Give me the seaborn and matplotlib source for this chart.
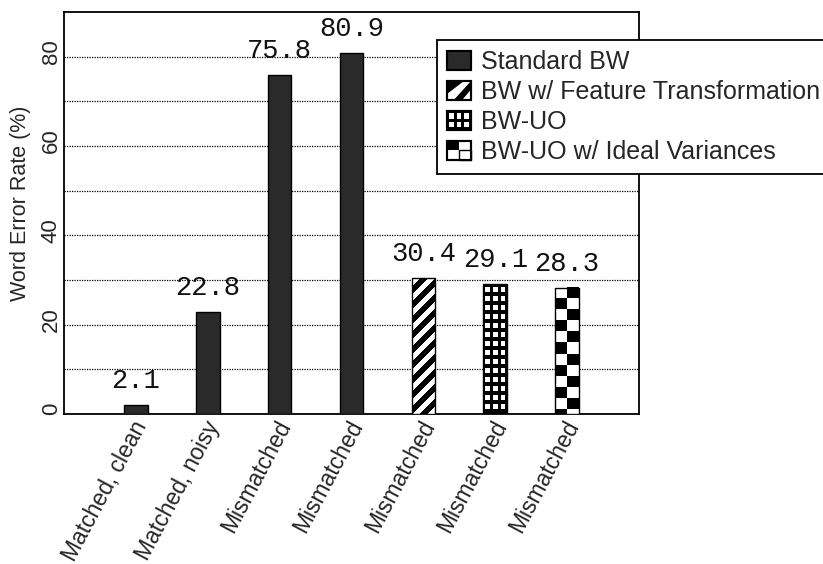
import numpy as np
import pandas as pd
import matplotlib
matplotlib.use("Agg")
import matplotlib.pyplot as plt
import matplotlib.transforms as mtransforms
import seaborn as sns
from matplotlib.legend_handler import HandlerBase
from matplotlib.patches import Rectangle, Polygon

# ---- data ---------------------------------------------------------------
conditions = ["Matched, clean", "Matched, noisy", "Mismatched", "Mismatched",
              "Mismatched", "Mismatched", "Mismatched"]
methods = ["Standard BW", "Standard BW", "Standard BW", "Standard BW",
           "BW w/ Feature Transformation", "BW-UO", "BW-UO w/ Ideal Variances"]
wer = [2.1, 22.8, 75.8, 80.9, 30.4, 29.1, 28.3]
method_order = ["Standard BW", "BW w/ Feature Transformation", "BW-UO",
                "BW-UO w/ Ideal Variances"]
y_ticks = [0, 20, 40, 60, 80]
y_grid = [10, 20, 30, 40, 50, 60, 70, 80]

slots = [str(i) for i in range(len(wer))]
df = pd.DataFrame({"slot": slots, "condition": conditions,
                   "method": methods, "wer": wer})

# fill style per method
pattern_of = {"Standard BW": "solid",
              "BW w/ Feature Transformation": "stripes",
              "BW-UO": "grid",
              "BW-UO w/ Ideal Variances": "checker"}
DARK = "#2a2a2a"

sns.set_style("white")
plt.rcParams["font.family"] = ["Liberation Sans", "DejaVu Sans"]

W, H, DPI = 8.23, 5.64, 100
fig = plt.figure(figsize=(W, H), dpi=DPI)
ax_rect = [64 / 823, 1 - 414 / 564, (639 - 64) / 823, (414 - 12) / 564]
ax = fig.add_axes(ax_rect)

palette = {m: (DARK if pattern_of[m] == "solid" else "white") for m in method_order}
sns.barplot(data=df, x="slot", y="wer", hue="method", order=slots,
            hue_order=method_order, dodge=False, width=0.33, palette=palette,
            edgecolor="black", linewidth=1.0, legend=False, ax=ax,
            saturation=1, zorder=3)

XLIM = (-1, 7)
YLIM = (0, 90)
px_per_x = ax_rect[2] * W * DPI / (XLIM[1] - XLIM[0])
px_per_y = ax_rect[3] * H * DPI / (YLIM[1] - YLIM[0])


def pattern_array(kind, w_px, h_px):
    yy, xx = np.mgrid[0:h_px, 0:w_px]
    ytop = h_px - 1 - yy
    if kind == "stripes":
        black = ((yy - xx) % 15) < 8
    elif kind == "grid":
        wx = ((xx - 2) % 8 < 5) & (xx >= 2) & (xx <= w_px - 3)
        wy = ((ytop - 3) % 9 < 5) & (ytop >= 3) & (yy >= 2)
        black = ~(wx & wy)
    else:  # checker
        col = (xx * 2) // w_px
        row = ytop // 11
        black = ((col + row) % 2) == 1
    return np.where(black, 0.0, 1.0)


# overlay the textured fills, clipped to each bar
for container, method in zip(ax.containers, method_order):
    kind = pattern_of[method]
    for patch in container:
        if kind == "solid":
            continue
        x0, w, h = patch.get_x(), patch.get_width(), patch.get_height()
        w_px = max(int(round(w * px_per_x)), 2)
        h_px = max(int(round(h * px_per_y)), 2)
        img = pattern_array(kind, w_px, h_px)
        ax.imshow(img, cmap="gray", vmin=0, vmax=1, origin="lower",
                  extent=(x0, x0 + w, 0, h), aspect="auto",
                  interpolation="nearest", zorder=3, clip_path=patch)
        patch.set_facecolor("none")
        patch.set_zorder(4)

ax.set_xlim(*XLIM)
ax.set_ylim(*YLIM)

# value labels above each bar
for i, v in enumerate(wer):
    ax.annotate(f"{v:.1f}", xy=(i, v), xytext=(0, 11),
                textcoords="offset pixels", ha="center", va="bottom",
                family="Liberation Mono", fontsize=19.5, color="#111111",
                zorder=6)

# grid, ticks, spines
ax.set_yticks(y_grid, minor=True)
ax.set_yticks(y_ticks)
ax.grid(False)
ax.yaxis.grid(True, which="both", linestyle=(0, (1, 1)), color="black",
              linewidth=0.9)
ax.set_axisbelow(True)
ax.tick_params(axis="both", which="both", length=0)
ax.tick_params(axis="y", pad=1.5, labelsize=16)
ax.set_yticklabels([str(t) for t in y_ticks], rotation=90, va="center")
up = mtransforms.ScaledTranslation(0, 5 / DPI, fig.dpi_scale_trans)
for lab in ax.get_yticklabels():
    lab.set_transform(lab.get_transform() + up)

ax.set_xticks(range(len(conditions)))
ax.set_xticklabels(conditions, rotation=62, ha="right", va="center",
                   rotation_mode="anchor", fontsize=16.5)
ax.tick_params(axis="x", pad=6)
right = mtransforms.ScaledTranslation(6 / DPI, 0, fig.dpi_scale_trans)
for lab in ax.get_xticklabels():
    lab.set_transform(lab.get_transform() + right)
ax.set_xlabel("")
ax.set_ylabel("Word Error Rate (%)", fontsize=15.5)
ax.yaxis.set_label_coords(-33 / 575, (414 - 203) / 402)
for s in ax.spines.values():
    s.set_visible(True)
    s.set_color("black")
    s.set_linewidth(1.3)


# legend with drawn swatches
class PatternHandler(HandlerBase):
    def __init__(self, kind):
        super().__init__()
        self.kind = kind

    def create_artists(self, legend, orig_handle, xdescent, ydescent,
                       width, height, fontsize, trans):
        x0, y0 = -xdescent, -ydescent
        w, h = width, height
        arts = []
        face = DARK if self.kind == "solid" else "white"
        arts.append(Rectangle((x0, y0), w, h, facecolor=face,
                              edgecolor="black", lw=1.5, transform=trans))
        if self.kind == "stripes":
            arts.append(Polygon([(x0, y0 + 0.3 * h), (x0, y0 + h),
                                 (x0 + 0.7 * w, y0 + h)], closed=True,
                                facecolor="black", edgecolor="none",
                                transform=trans))
            arts.append(Polygon([(x0 + 0.3 * w, y0), (x0 + 0.65 * w, y0),
                                 (x0 + w, y0 + 0.55 * h), (x0 + w, y0 + h),
                                 ], closed=True, facecolor="black",
                                edgecolor="none", transform=trans))
        elif self.kind == "grid":
            arts.append(Rectangle((x0, y0), w, h, facecolor="black",
                                  edgecolor="none", transform=trans))
            sw, sh = w * 0.2, h * 0.3
            for cx in (0.2, 0.5, 0.8):
                for cy in (0.28, 0.72):
                    arts.append(Rectangle((x0 + cx * w - sw / 2,
                                           y0 + cy * h - sh / 2), sw, sh,
                                          facecolor="white", edgecolor="none",
                                          transform=trans))
        elif self.kind == "checker":
            arts.append(Rectangle((x0, y0 + 0.5 * h), 0.5 * w, 0.5 * h,
                                  facecolor="black", edgecolor="none",
                                  transform=trans))
            arts.append(Rectangle((x0 + 0.5 * w, y0), 0.5 * w, 0.5 * h,
                                  facecolor="white", edgecolor="black",
                                  lw=1.0, transform=trans))
        arts.append(Rectangle((x0, y0), w, h, facecolor="none",
                              edgecolor="black", lw=1.5, transform=trans))
        return arts


handles = [Rectangle((0, 0), 1, 1, label=m) for m in method_order]
handler_map = {h: PatternHandler(pattern_of[m]) for h, m in zip(handles, method_order)}
leg = fig.legend(handles=handles, labels=method_order, handler_map=handler_map,
                 loc="upper left", bbox_to_anchor=(437 / 823, 1 - 40 / 564),
                 fontsize=18, frameon=True, fancybox=False, framealpha=1,
                 edgecolor="black", handlelength=0.96, handleheight=0.76,
                 handletextpad=0.4, labelspacing=0.24, borderpad=0.4,
                 borderaxespad=0)
leg.get_frame().set_linewidth(1.3)
leg.set_zorder(10)

fig.savefig("out.png", dpi=DPI)
